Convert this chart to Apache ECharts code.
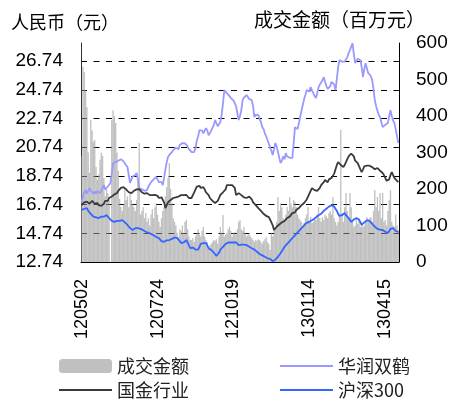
<!DOCTYPE html>
<html><head><meta charset="utf-8">
<script src="https://cdn.jsdelivr.net/npm/echarts@6/dist/echarts.min.js"></script>
<style>html,body{margin:0;padding:0;background:#fff}#c{width:452px;height:403px}</style>
</head><body><div id="c"></div>
<script>
// x tick labels (one every 58 trading days)
const tickLabels = ['120502', '120724', '121019', '130114', '130415'];
const labelStep = 58;
// left axis ticks
const priceTicks = [12.74, 14.74, 16.74, 18.74, 20.74, 22.74, 24.74, 26.74];

// 成交金额 (百万元)
const volume = [
  290, 535, 520, 470, 425, 300, 244, 389, 360, 330, 334,
  260, 225, 240, 280, 299, 290, 230, 180, 200, 189, 170,
  0, 389, 416, 400, 381, 300, 250, 173, 151, 140, 160,
  200, 170, 180, 150, 193, 170, 160, 150, 140, 170, 220,
  326, 130, 140, 150, 120, 135, 110, 120, 100, 130, 145,
  120, 150, 160, 130, 110, 96, 120, 140, 150, 180, 205,
  230, 271, 200, 160, 120, 110, 100, 80, 68, 90, 85,
  100, 80, 110, 115, 90, 70, 60, 60, 65, 55, 70,
  80, 90, 75, 70, 85, 96, 70, 60, 55, 40, 45,
  50, 55, 60, 58, 62, 50, 70, 96, 80, 129, 70,
  75, 80, 90, 96, 85, 70, 80, 82, 75, 90, 110,
  115, 90, 85, 96, 80, 70, 75, 80, 70, 65, 60,
  55, 60, 58, 62, 60, 55, 50, 58, 62, 68, 55,
  50, 33, 80, 70, 90, 96, 110, 178, 140, 161, 150,
  120, 115, 130, 151, 140, 178, 160, 150, 170, 165, 151,
  130, 120, 115, 110, 100, 107, 120, 130, 151, 110, 123,
  107, 110, 120, 115, 130, 151, 120, 110, 123, 115, 130,
  125, 120, 134, 140, 130, 178, 120, 110, 100, 110, 130,
  362, 134, 110, 150, 189, 140, 120, 189, 150, 110, 96,
  100, 120, 105, 115, 96, 110, 96, 100, 110, 123, 115,
  120, 123, 110, 140, 197, 150, 178, 140, 189, 120, 189,
  110, 115, 100, 140, 170, 197, 110, 100, 96, 130, 100, 88
];
// 华润双鹤
const huarun = [
  16.92, 17.3, 17.6, 17.75, 17.5, 17.7, 17.9, 17.7, 17.6, 17.5, 17.65,
  17.5, 17.7, 17.6, 17.54, 17.7, 17.9, 18.1, 17.8, 17.9, 18.0, 18.1,
  18.24, 18.9, 19.63, 19.5, 19.7, 19.6, 19.8, 19.7, 19.9, 19.84, 19.75,
  19.6, 19.5, 19.36, 18.8, 18.24, 18.5, 18.7, 18.6, 18.8, 18.94, 18.5,
  17.9, 18.0, 17.8, 17.9, 17.7, 17.8, 17.75, 18.0, 18.1, 18.3, 18.2,
  18.5, 18.4, 18.66, 18.5, 18.3, 18.2, 18.3, 18.1, 18.6, 19.2, 19.7,
  20.05, 20.2, 20.1, 20.4, 20.54, 20.6, 20.7, 20.8, 20.6, 20.9, 20.8,
  21.03, 20.9, 21.0, 21.03, 20.8, 20.6, 20.5, 20.4, 20.33, 20.4, 20.7,
  21.2, 21.5, 21.93, 21.8, 21.9, 21.7, 21.9, 22.07, 21.9, 21.58, 21.72,
  21.9, 22.1, 22.3, 22.63, 22.4, 22.2, 22.07, 22.5, 23.0, 23.8, 24.72,
  24.6, 24.51, 24.6, 24.3, 24.16, 24.2, 24.0, 24.02, 23.6, 23.1, 22.63,
  22.9, 23.32, 24.02, 24.2, 24.3, 24.37, 24.3, 24.1, 24.2, 24.02, 23.6,
  22.84, 23.0, 22.9, 22.98, 22.7, 22.5, 22.14, 22.0, 21.7, 21.5, 21.24,
  21.0, 20.7, 20.5, 20.19, 20.6, 21.03, 20.8, 20.4, 20.0, 19.63, 19.8,
  20.1, 19.9, 20.33, 20.1, 20.2, 20.0, 20.05, 20.0, 21.0, 22.14, 22.1,
  22.0, 22.07, 22.84, 23.3, 23.7, 24.1, 24.4, 24.72, 24.8, 24.6, 24.93,
  24.7, 24.5, 24.3, 24.16, 24.5, 24.9, 25.1, 25.21, 25.4, 25.62, 25.3,
  25.0, 24.8, 24.72, 25.0, 25.3, 25.41, 25.1, 24.72, 25.5, 26.3, 26.81,
  26.81, 26.7, 26.6, 26.7, 26.6, 27.0, 27.3, 27.5, 27.5, 28.0, 27.2,
  26.6, 26.7, 26.9, 26.8, 26.81, 26.3, 25.62, 26.2, 26.6, 26.2, 25.9,
  25.9, 25.7, 25.41, 24.8, 24.02, 23.6, 23.3, 23.0, 22.84, 22.5, 22.14,
  22.2, 22.3, 22.4, 22.42, 22.9, 23.32, 22.9, 22.6, 22.42, 22.0, 21.5, 21.03
];
// 国金行业
const guojin = [
  16.71, 16.8, 16.9, 16.85, 16.95, 16.92, 16.8, 16.9, 17.0, 16.9, 16.8,
  16.9, 16.85, 16.7, 16.6, 16.65, 16.57, 16.8, 17.0, 17.1, 17.0, 17.2,
  17.27, 17.3, 17.4, 17.45, 17.5, 17.54, 17.7, 17.8, 17.9, 17.85, 17.95,
  17.96, 17.8, 17.7, 17.6, 17.5, 17.54, 17.6, 17.7, 17.75, 17.8, 17.7,
  17.82, 17.7, 17.6, 17.65, 17.5, 17.6, 17.54, 17.5, 17.4, 17.45, 17.4,
  17.35, 17.41, 17.3, 17.35, 17.2, 17.3, 17.25, 17.27, 16.9, 16.5, 16.7,
  16.9, 17.0, 17.06, 17.1, 17.2, 17.3, 17.25, 17.35, 17.3, 17.34, 17.4,
  17.34, 17.4, 17.45, 17.41, 17.3, 17.2, 17.1, 17.2, 17.4, 17.6, 17.8,
  18.0, 18.1, 18.05, 17.9, 17.95, 17.96, 17.8, 17.6, 17.54, 17.4, 17.2,
  17.1, 17.0, 16.9, 16.85, 16.8, 17.0, 17.2, 17.41, 17.5, 17.6, 17.6,
  17.8, 18.1, 18.0, 18.1, 18.05, 18.1, 18.1, 17.9, 17.41, 17.5, 17.54,
  17.5, 17.4, 17.3, 17.25, 17.2, 17.2, 17.25, 17.3, 17.27, 17.1, 16.9,
  16.8, 16.7, 16.6, 16.5, 16.4, 16.3, 16.2, 16.1, 16.0, 15.95, 15.9,
  15.87, 15.7, 15.5, 15.3, 14.97, 15.1, 15.2, 15.3, 15.35, 15.46, 15.5,
  15.55, 15.6, 15.7, 15.8, 15.85, 15.9, 16.0, 16.15, 16.1, 16.2, 16.36,
  16.4, 16.5, 16.55, 16.7, 16.8, 16.85, 16.92, 17.1, 17.3, 17.5, 17.7,
  17.89, 17.8, 17.75, 17.8, 17.7, 17.75, 17.9, 18.1, 18.2, 18.3, 18.45,
  18.4, 18.3, 18.5, 18.55, 18.6, 18.66, 18.9, 19.2, 19.5, 19.7, 19.6,
  19.5, 19.4, 19.36, 19.5, 19.7, 19.9, 20.1, 20.2, 20.3, 20.4, 20.1,
  19.8, 19.7, 19.63, 19.4, 19.2, 19.01, 19.2, 19.4, 19.5, 19.45, 19.5,
  19.45, 19.4, 19.35, 19.3, 19.2, 19.25, 19.29, 19.2, 19.1, 19.0, 18.94,
  18.8, 18.6, 18.4, 18.31, 18.5, 18.8, 19.01, 18.8, 18.6, 18.5, 18.4, 18.31
];
// 沪深300
const hs300 = [
  16.36, 16.4, 16.45, 16.5, 16.5, 16.3, 16.2, 16.1, 16.0, 15.9, 15.8,
  15.85, 15.9, 15.8, 15.85, 15.9, 15.87, 15.9, 15.95, 16.01, 15.9, 15.8,
  15.7, 15.6, 15.55, 15.53, 15.5, 15.6, 15.65, 15.6, 15.7, 15.66, 15.6,
  15.5, 15.4, 15.32, 15.2, 15.1, 15.0, 14.97, 15.05, 15.1, 15.0, 15.1,
  15.11, 15.05, 15.0, 14.95, 14.9, 14.85, 14.8, 14.78, 14.76, 14.7, 14.65,
  14.6, 14.55, 14.48, 14.45, 14.4, 14.3, 14.2, 14.13, 14.15, 14.2, 14.25,
  14.27, 14.27, 14.3, 14.35, 14.4, 14.45, 14.48, 14.4, 14.3, 14.2, 14.06,
  14.06, 14.1, 14.2, 14.27, 14.1, 13.9, 13.71, 13.7, 13.75, 13.71, 13.6,
  13.55, 13.6, 13.8, 14.0, 14.1, 14.05, 14.0, 14.06, 13.9, 13.7, 13.58,
  13.58, 13.5, 13.4, 13.3, 13.16, 13.23, 13.4, 13.6, 13.71, 13.8, 13.9,
  14.0, 14.06, 14.1, 14.05, 14.1, 14.15, 14.1, 14.13, 14.1, 14.0, 13.92,
  13.92, 13.95, 13.9, 13.95, 13.9, 13.92, 13.85, 13.8, 13.75, 13.7, 13.71,
  13.6, 13.5, 13.45, 13.37, 13.3, 13.25, 13.2, 13.15, 13.1, 13.05, 13.0,
  13.02, 12.95, 12.9, 12.8, 12.74, 12.9, 13.0, 13.1, 13.23, 13.35, 13.5,
  13.65, 13.8, 13.92, 14.0, 14.1, 14.2, 14.3, 14.41, 14.5, 14.6, 14.7,
  14.8, 14.9, 15.0, 15.1, 15.18, 15.3, 15.4, 15.45, 15.5, 15.55, 15.6,
  15.66, 15.7, 15.8, 15.85, 15.9, 16.0, 16.05, 16.1, 16.22, 16.3, 16.4,
  16.45, 16.5, 16.6, 16.71, 16.7, 16.65, 16.6, 16.57, 16.3, 16.1, 15.95,
  15.87, 16.0, 16.1, 16.15, 16.0, 15.9, 15.8, 15.7, 15.53, 15.6, 15.7,
  15.75, 15.8, 15.8, 15.7, 15.5, 15.32, 15.4, 15.5, 15.6, 15.65, 15.66,
  15.6, 15.5, 15.4, 15.3, 15.2, 15.11, 15.05, 15.0, 15.0, 14.97, 14.97,
  14.9, 14.85, 14.8, 14.76, 14.9, 15.05, 15.18, 15.1, 15.0, 14.9, 14.85, 14.83
];
const categories = volume.map((_, i) => i);

const numFont = '"Liberation Sans", Arial, sans-serif';
const cjkFont = '"Noto Sans CJK SC", sans-serif';
const noSymbol = {opacity: 0};

const chart = echarts.init(document.getElementById('c'), null, {renderer: 'canvas'});
chart.setOption({
  animation: false,
  backgroundColor: '#fff',
  grid: {left: 81, right: 53, top: 43, bottom: 141},
  graphic: [
    {type: 'text', left: 11, top: 13, style: {text: '人民币（元）', font: '18px ' + cjkFont, fill: '#000'}},
    {type: 'text', left: 254, top: 10, style: {text: '成交金额（百万元）', font: '19px ' + cjkFont, fill: '#000'}}
  ],
  legend: [
    {left: 58, top: 357, orient: 'vertical', padding: 0, itemWidth: 53, itemHeight: 14, itemGap: 6,
     textStyle: {fontFamily: cjkFont, fontSize: 18, color: '#222'},
     data: ['成交金额', {name: '国金行业', itemStyle: noSymbol}]},
    {left: 279, top: 357, orient: 'vertical', padding: 0, itemWidth: 53, itemHeight: 14, itemGap: 6,
     textStyle: {fontFamily: cjkFont, fontSize: 18, color: '#222'},
     data: [{name: '华润双鹤', itemStyle: noSymbol}, {name: '沪深300', itemStyle: noSymbol}]}
  ],
  xAxis: {
    type: 'category', data: categories, boundaryGap: true,
    axisLine: {lineStyle: {color: '#000', width: 1}},
    axisTick: {show: false},
    axisLabel: {
      interval: labelStep - 1, rotate: 90, margin: 17,
      fontFamily: numFont, fontSize: 18, color: '#000',
      formatter: (v, i) => (i % labelStep === 0 && tickLabels[i / labelStep]) ? tickLabels[i / labelStep] : ''
    },
    splitLine: {show: false}
  },
  yAxis: [
    {
      type: 'value', position: 'left', min: 12.74, max: 28,
      axisLine: {show: true, lineStyle: {color: '#333', width: 1}},
      axisTick: {show: false, customValues: priceTicks},
      axisLabel: {customValues: priceTicks, formatter: v => v.toFixed(2), fontFamily: numFont, fontSize: 19, color: '#000', margin: 18},
      splitLine: {show: true, lineStyle: {color: '#000', width: 1, type: [6, 6.5]}}
    },
    {
      type: 'value', position: 'right', min: 0, max: 600, interval: 100,
      axisLine: {show: true, lineStyle: {color: '#000', width: 1}},
      axisTick: {show: false},
      axisLabel: {fontFamily: numFont, fontSize: 19, color: '#000', margin: 17},
      splitLine: {show: false}
    }
  ],
  series: [
    {name: '成交金额', type: 'bar', yAxisIndex: 1, data: volume, barCategoryGap: '0%',
     itemStyle: {color: 'rgba(150,150,150,0.6)'}},
    {name: '华润双鹤', type: 'line', yAxisIndex: 0, data: huarun, symbol: 'none',
     lineStyle: {color: '#9999ff', width: 1.8}, itemStyle: {color: '#9999ff'}},
    {name: '国金行业', type: 'line', yAxisIndex: 0, data: guojin, symbol: 'none',
     lineStyle: {color: '#3a3a3a', width: 1.8}, itemStyle: {color: '#3a3a3a'}},
    {name: '沪深300', type: 'line', yAxisIndex: 0, data: hs300, symbol: 'none',
     lineStyle: {color: '#3366ff', width: 1.8}, itemStyle: {color: '#3366ff'}}
  ]
});
</script>
</body></html>
